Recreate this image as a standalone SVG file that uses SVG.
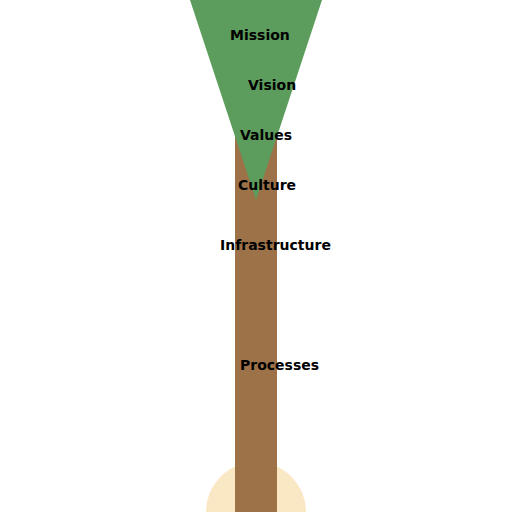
<svg xmlns="http://www.w3.org/2000/svg" width="512" height="512" viewBox="0 0 512 512">
<style>
.lbl{font-family:"DejaVu Sans",sans-serif;font-weight:bold;font-size:14px;fill:#000}
</style>
<rect width="512" height="512" fill="#fff"/>
<g id="roots"><circle cx="256" cy="512" r="50" fill="#fae7c3"/></g>
<g id="trunk"><rect x="235" y="0" width="42" height="512" fill="#9e7249"/></g>
<g id="crown"><polygon points="190,0 322,0 256,200" fill="#5c9c5c"/></g>
<g id="connectors"></g>
<g id="labels">
<text id="mission" class="lbl" x="230" y="40">Mission</text>
<text id="vision" class="lbl" x="248" y="90">Vision</text>
<text id="values" class="lbl" x="240" y="140">Values</text>
<text id="culture" class="lbl" x="238" y="190">Culture</text>
<text id="infrastructure" class="lbl" x="220" y="250">Infrastructure</text>
<text id="processes" class="lbl" x="240" y="370">Processes</text>
</g>
</svg>
